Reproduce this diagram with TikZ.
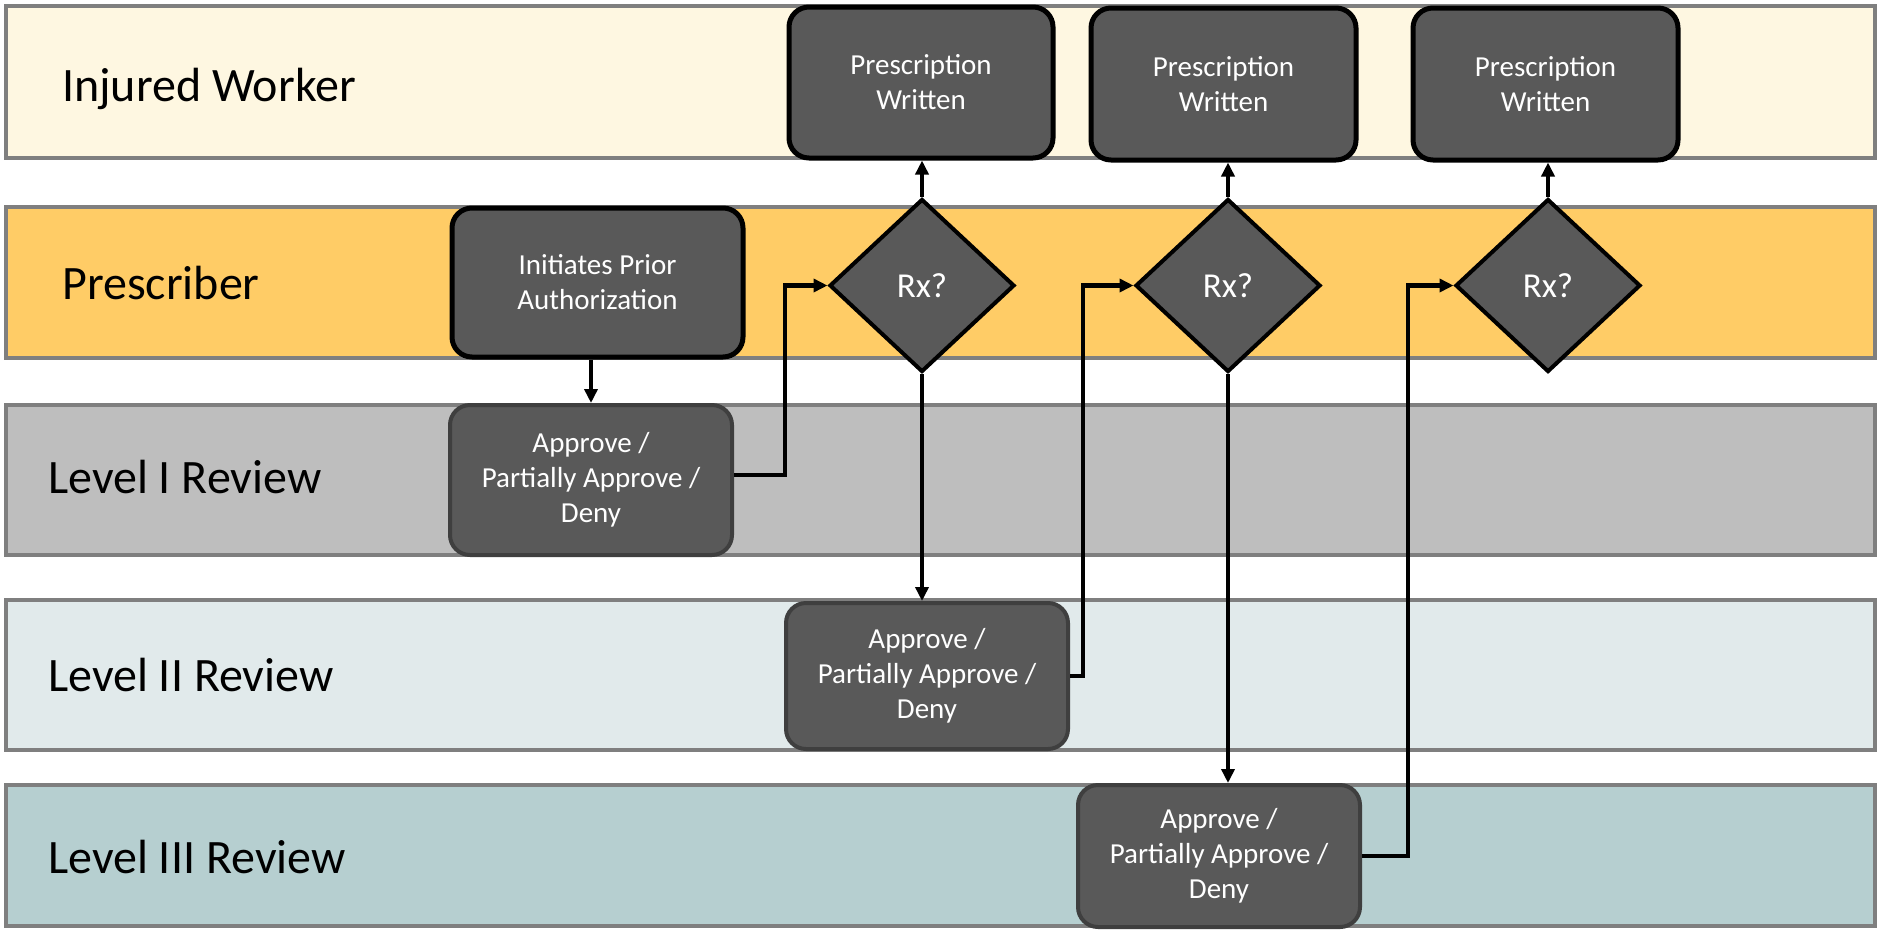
\documentclass[tikz,border=0pt]{standalone}
\usepackage{fontspec}
\setmainfont{Carlito}
\usetikzlibrary{shapes.geometric,arrows.meta}
\definecolor{laneA}{HTML}{FEF7E1}
\definecolor{laneB}{HTML}{FFCC66}
\definecolor{laneC}{HTML}{BEBEBE}
\definecolor{laneD}{HTML}{E1EAEB}
\definecolor{laneE}{HTML}{B6CFD0}
\definecolor{boxfill}{HTML}{595959}
\definecolor{laneedge}{HTML}{7F7F7F}
\definecolor{boxedge}{HTML}{3F3F3F}
\tikzset{
  lanebox/.style={draw=laneedge, line width=4pt},
  lanelabel/.style={anchor=west, inner sep=0pt, font=\fontsize{48}{57}\selectfont},
  procbox/.style={rectangle, rounded corners=20pt, fill=boxfill, text=white, align=center,
    inner sep=0pt, font=\fontsize{29}{35}\selectfont},
  blackbox/.style={procbox, draw=black, line width=5pt},
  greybox/.style={procbox, draw=boxedge, line width=4pt},
  decision/.style={diamond, draw=black, line width=4pt, fill=boxfill, text=white, inner sep=0pt,
    aspect=1.07, minimum width=185pt, minimum height=173pt, font=\fontsize{35}{42}\selectfont},
  flow/.style={draw=black, line width=4.5pt, -{Triangle[length=14pt,width=13pt]}},
}
\begin{document}
\begin{tikzpicture}[x=1pt, y=-1pt]
\useasboundingbox (0,0) rectangle (1879,930);
% lanes
\path[lanebox, fill=laneA] (6,6) rectangle (1875,158);
\path[lanebox, fill=laneB] (6,207) rectangle (1875,358);
\path[lanebox, fill=laneC] (6,405) rectangle (1875,555);
\path[lanebox, fill=laneD] (6,600) rectangle (1875,750);
\path[lanebox, fill=laneE] (6,785) rectangle (1875,926);
\node[lanelabel] (lab1) at (62,89) {Injured Worker};
\node[lanelabel] (lab2) at (62,283) {Prescriber};
\node[lanelabel] (lab3) at (48,477) {Level I Review};
\node[lanelabel] (lab4) at (48,675) {Level II Review};
\node[lanelabel] (lab5) at (48,857) {Level III Review};
% boxes
\node[blackbox, minimum width=264pt, minimum height=151pt] (pw1) at (921,82.5) {Prescription\\Written};
\node[blackbox, minimum width=265pt, minimum height=152pt] (pw2) at (1223.5,84) {Prescription\\Written};
\node[blackbox, minimum width=265pt, minimum height=152pt] (pw3) at (1545.5,84) {Prescription\\Written};
\node[blackbox, minimum width=291pt, minimum height=149pt] (init) at (597.5,282.5) {Initiates Prior\\Authorization};
\node[greybox, minimum width=282pt, minimum height=150pt] (l1) at (591,480) {Approve /\\Partially Approve /\\Deny};
\node[greybox, minimum width=282pt, minimum height=146pt] (l2) at (927,676) {Approve /\\Partially Approve /\\Deny};
\node[greybox, minimum width=282pt, minimum height=142pt] (l3) at (1219,856) {Approve /\\Partially Approve /\\Deny};
\node[decision] (d1) at (922,285.5) {Rx?};
\node[decision] (d2) at (1228,285.5) {Rx?};
\node[decision] (d3) at (1548,285.5) {Rx?};
% connectors
\draw[flow] (l1.north |- init.south) -- (l1.north);
\draw[flow] ([yshift=5pt]l1.east) -- ++(51,0) |- (d1.west);
\draw[flow] (d1.south) -- (d1.south |- l2.north);
\draw[flow] (l2.east) -- ++(13,0) |- (d2.west);
\draw[flow] (d2.south) -- (d2.south |- l3.north);
\draw[flow] (l3.east) -- ++(46,0) |- (d3.west);
\draw[flow] (d1.north) -- (d1.north |- pw1.south);
\draw[flow] (d2.north) -- (d2.north |- pw2.south);
\draw[flow] (d3.north) -- (d3.north |- pw3.south);
\end{tikzpicture}
\end{document}
